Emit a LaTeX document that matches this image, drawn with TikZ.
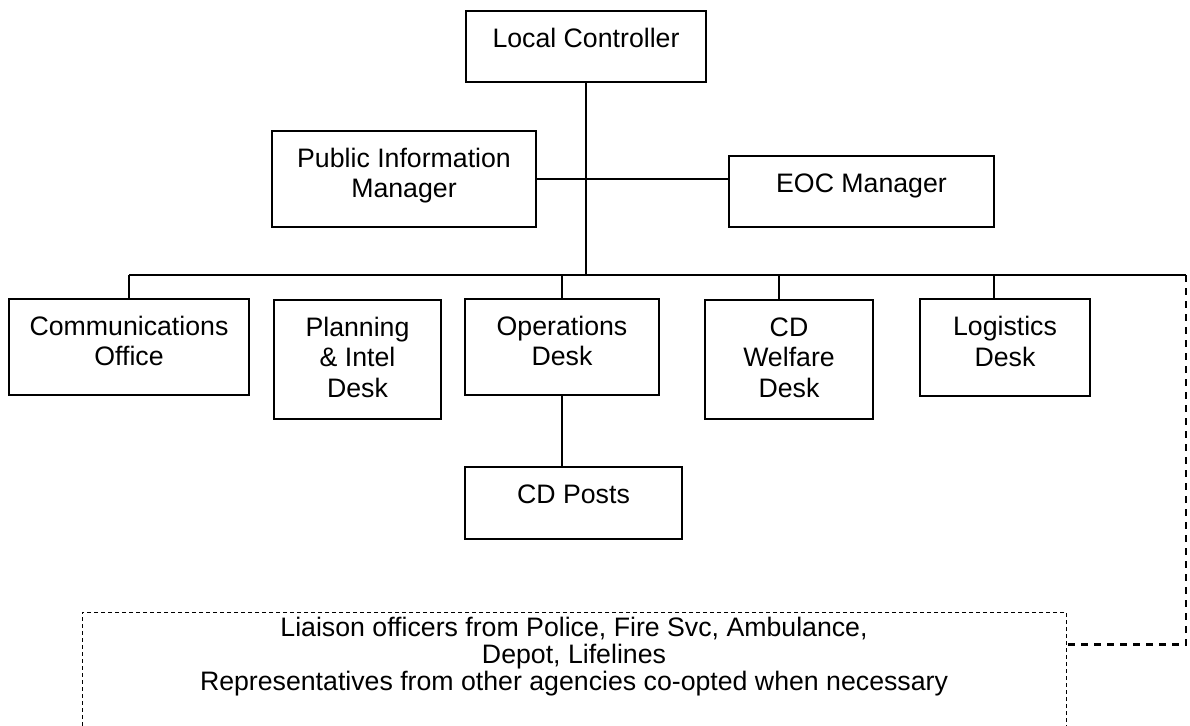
\documentclass[tikz,border=0pt]{standalone}
\usepackage{fontspec}
\setmainfont{Liberation Sans}
\newcommand{\padbelow}[1]{\rule[-#1pt]{0pt}{#1pt}}

\begin{document}
\begin{tikzpicture}[x=1pt,y=-1pt,
    desk/.style={draw, line width=2pt, inner sep=0pt, align=center,
      font=\fontsize{26.7}{30.5}\selectfont},
    link/.style={line width=2pt},
    dashlink/.style={line width=2.2pt, dash pattern=on 7pt off 6pt},
    liaison/.style={draw, line width=1pt, dash pattern=on 4pt off 3pt,
      inner sep=0pt, align=center, font=\fontsize{26.7}{27}\selectfont}]
		\useasboundingbox (0,0) rectangle (1190,725);
		\clip (0,0) rectangle (1190,725);

		% top level
		\node[desk, minimum width=240, minimum height=71] (lc) at (586,46.5)
			{Local Controller\padbelow{17.5}};
		\node[desk, minimum width=264, minimum height=96] (pim) at (404,179)
			{Public Information\\Manager\padbelow{12}};
		\node[desk, minimum width=265, minimum height=71] (eoc) at (861.5,191.5)
			{EOC Manager\padbelow{17.5}};

		% desks
		\node[desk, minimum width=240, minimum height=96] (comms) at (129,347)
			{Communications\\Office\padbelow{12}};
		\node[desk, minimum width=167, minimum height=119] (plan) at (357.5,359.5)
			{Planning\\\& Intel\\Desk\padbelow{4.5}};
		\node[desk, minimum width=194, minimum height=96] (ops) at (562,347)
			{Operations\\Desk\padbelow{12}};
		\node[desk, minimum width=168, minimum height=119] (welf) at (789,359.5)
			{CD\\Welfare\\Desk\padbelow{4.5}};
		\node[desk, minimum width=170, minimum height=97] (logi) at (1005,347.5)
			{Logistics\\Desk\padbelow{12.5}};
		\node[desk, minimum width=217, minimum height=72] (posts) at (573.5,503)
			{CD Posts\padbelow{18.5}};

		\node[liaison, minimum width=984, minimum height=148] (liaison) at (574,686)
			{Liaison officers from Police, Fire Svc, Ambulance,\\Depot, Lifelines\\
			 Representatives from other agencies co-opted when necessary\padbelow{64.5}};

		\coordinate (busL) at (129,275);
		\coordinate (busR) at (1186,275);

		\draw[link] (lc.south) -- (lc.south |- busL);
		\draw[link] (pim.east) -- (pim.east -| eoc.west);
		\draw[link] (busL) -- (busR);
		\draw[link] (comms.north) -- (comms.north |- busL);
		\draw[link] (ops.north) -- (ops.north |- busL);
		\draw[link] ([xshift=-10pt]welf.north) -- ([xshift=-10pt]welf.north |- busL);
		\draw[link] ([xshift=-11pt]logi.north) -- ([xshift=-11pt]logi.north |- busL);
		\draw[link] (ops.south) -- (ops.south |- posts.north);

		\draw[dashlink] (busR) |- ([yshift=-33pt]liaison.north east);
	\end{tikzpicture}
\end{document}
